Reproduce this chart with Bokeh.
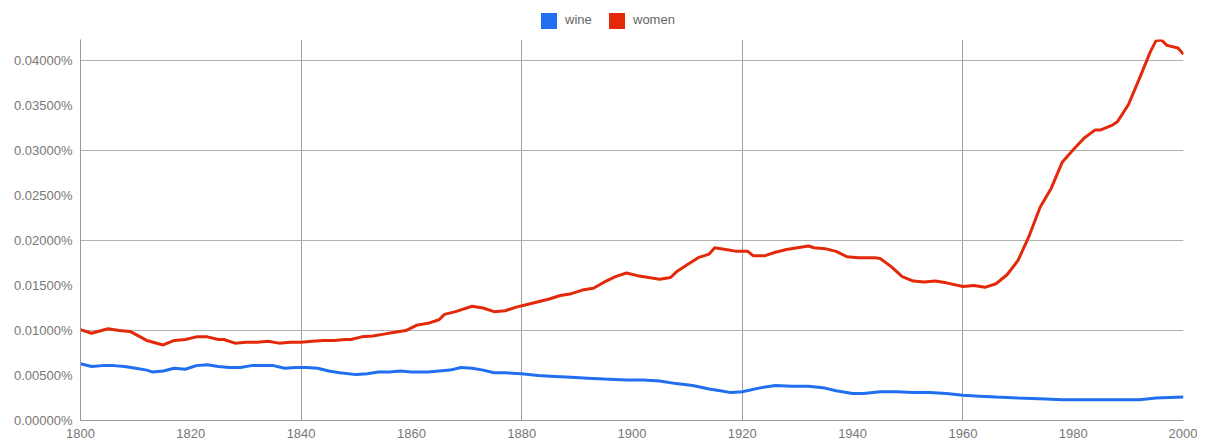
from bokeh.plotting import figure
from bokeh.models import Range1d, FixedTicker, PrintfTickFormatter, ColumnDataSource, Div
from bokeh.layouts import column
from bokeh.embed import file_html
from bokeh.resources import INLINE

# Data (values in percent)
women_years = [1800, 1802, 1805, 1807, 1809, 1812, 1815, 1817, 1819, 1821, 1823, 1825, 1826, 1828,
               1830, 1832, 1834, 1836, 1838, 1840, 1842, 1844, 1846, 1848, 1849, 1851, 1853, 1855,
               1857, 1859, 1861, 1863, 1865, 1866, 1868, 1871, 1873, 1875, 1877, 1879, 1881, 1883,
               1885, 1887, 1889, 1891, 1893, 1895, 1897, 1899, 1901, 1903, 1905, 1907, 1908, 1910,
               1912, 1914, 1915, 1917, 1919, 1921, 1922, 1924, 1926, 1928, 1930, 1932, 1933, 1935,
               1937, 1939, 1941, 1944, 1945, 1947, 1949, 1951, 1953, 1955, 1957, 1960, 1962, 1964,
               1966, 1968, 1970, 1972, 1974, 1976, 1978, 1980, 1982, 1984, 1985, 1987, 1988, 1990,
               1992, 1994, 1995, 1996, 1997, 1999, 2000]
women_vals = [0.0101, 0.0097, 0.0102, 0.0100, 0.0099, 0.0089, 0.0084, 0.0089, 0.0090, 0.0093, 0.0093,
              0.0090, 0.0090, 0.0086, 0.0087, 0.0087, 0.0088, 0.0086, 0.0087, 0.0087, 0.0088, 0.0089,
              0.0089, 0.0090, 0.0090, 0.0093, 0.0094, 0.0096, 0.0098, 0.0100, 0.0106, 0.0108, 0.0112,
              0.0118, 0.0121, 0.0127, 0.0125, 0.0121, 0.0122, 0.0126, 0.0129, 0.0132, 0.0135, 0.0139,
              0.0141, 0.0145, 0.0147, 0.0154, 0.0160, 0.0164, 0.0161, 0.0159, 0.0157, 0.0159, 0.0165,
              0.0173, 0.0181, 0.0185, 0.0192, 0.0190, 0.0188, 0.0188, 0.0183, 0.0183, 0.0187, 0.0190,
              0.0192, 0.0194, 0.0192, 0.0191, 0.0188, 0.0182, 0.0181, 0.0181, 0.0180, 0.0171, 0.0160,
              0.0155, 0.0154, 0.0155, 0.0153, 0.0149, 0.0150, 0.0148, 0.0152, 0.0162, 0.0178, 0.0205,
              0.0237, 0.0258, 0.0287, 0.0301, 0.0314, 0.0323, 0.0323, 0.0328, 0.0332, 0.0351, 0.0380,
              0.0410, 0.0422, 0.0423, 0.0417, 0.0414, 0.0407]

wine_years = [1800, 1802, 1804, 1806, 1808, 1810, 1812, 1813, 1815, 1817, 1819, 1821, 1823, 1825,
              1827, 1829, 1831, 1833, 1835, 1837, 1839, 1841, 1843, 1845, 1847, 1850, 1852, 1854,
              1856, 1858, 1860, 1863, 1865, 1867, 1869, 1871, 1873, 1875, 1877, 1880, 1883, 1886,
              1889, 1892, 1895, 1899, 1902, 1905, 1908, 1911, 1914, 1916, 1918, 1920, 1923, 1926,
              1929, 1932, 1935, 1937, 1940, 1942, 1945, 1948, 1951, 1954, 1957, 1960, 1963, 1966,
              1970, 1975, 1978, 1983, 1988, 1992, 1995, 2000]
wine_vals = [0.0063, 0.0060, 0.0061, 0.0061, 0.0060, 0.0058, 0.0056, 0.0054, 0.0055, 0.0058, 0.0057,
             0.0061, 0.0062, 0.0060, 0.0059, 0.0059, 0.0061, 0.0061, 0.0061, 0.0058, 0.0059, 0.0059,
             0.0058, 0.0055, 0.0053, 0.0051, 0.0052, 0.0054, 0.0054, 0.0055, 0.0054, 0.0054, 0.0055,
             0.0056, 0.0059, 0.0058, 0.0056, 0.0053, 0.0053, 0.0052, 0.0050, 0.0049, 0.0048, 0.0047,
             0.0046, 0.0045, 0.0045, 0.0044, 0.0041, 0.0039, 0.0035, 0.0033, 0.0031, 0.0032, 0.0036,
             0.0039, 0.0038, 0.0038, 0.0036, 0.0033, 0.0030, 0.0030, 0.0032, 0.0032, 0.0031, 0.0031,
             0.0030, 0.0028, 0.0027, 0.0026, 0.0025, 0.0024, 0.0023, 0.0023, 0.0023, 0.0023, 0.0025,
             0.0026]

series_names = ["wine", "women"]
x_ticks = [1800, 1820, 1840, 1860, 1880, 1900, 1920, 1940, 1960, 1980, 2000]
x_grid = [1840, 1880, 1920, 1960, 2000]
y_ticks = [0.0, 0.005, 0.01, 0.015, 0.02, 0.025, 0.03, 0.035, 0.04]
y_grid = [0.01, 0.02, 0.03, 0.04]

BLUE = "#1f6ff0"
RED = "#e4290b"
FONT = "Liberation Sans"
GREY = "#777777"

p = figure(width=1197, height=410, output_backend="svg", toolbar_location=None,
           x_range=Range1d(1800, 2000), y_range=Range1d(0, 0.04235),
           min_border_left=80, min_border_right=14, min_border_top=9, min_border_bottom=10,
           margin=0)
p.outline_line_color = None

wine_src = ColumnDataSource(dict(x=wine_years, y=wine_vals))
women_src = ColumnDataSource(dict(x=women_years, y=women_vals))

p.line("x", "y", source=wine_src, color=BLUE, line_width=3)
p.line("x", "y", source=women_src, color=RED, line_width=3)

for ax in (p.xaxis[0], p.yaxis[0]):
    ax.major_tick_line_color = None
    ax.minor_tick_line_color = None
    ax.axis_line_color = "#999999"
    ax.major_label_text_font = FONT
    ax.major_label_text_font_size = "13px"
    ax.major_label_text_color = GREY
    ax.major_label_standoff = 2

p.xaxis.ticker = FixedTicker(ticks=x_ticks)
p.yaxis.ticker = FixedTicker(ticks=y_ticks)
p.yaxis.formatter = PrintfTickFormatter(format="%.5f%%")

p.xgrid.ticker = FixedTicker(ticks=x_grid)
p.ygrid.ticker = FixedTicker(ticks=y_grid)
p.xgrid.grid_line_color = "#a0a0a0"
p.ygrid.grid_line_color = "#b0b0b0"

# legend (HTML, above the plot)
sq = "position:absolute;top:13px;width:16px;height:16px;"
lab = "position:absolute;top:12px;line-height:16px;"
legend_html = (
    f'<div style="position:relative;width:1197px;height:30px;font-family:\'{FONT}\';'
    f'font-size:13px;color:#666666;">'
    f'<span style="{sq}left:541px;background:{BLUE};"></span>'
    f'<span style="{lab}left:565px;">{series_names[0]}</span>'
    f'<span style="{sq}left:609px;background:{RED};"></span>'
    f'<span style="{lab}left:633px;">{series_names[1]}</span>'
    f'</div>'
)
legend = Div(text=legend_html, width=1197, height=30, margin=0)

layout = column(legend, p, spacing=0, margin=0)
open("out.html", "w").write(file_html(layout, INLINE))
